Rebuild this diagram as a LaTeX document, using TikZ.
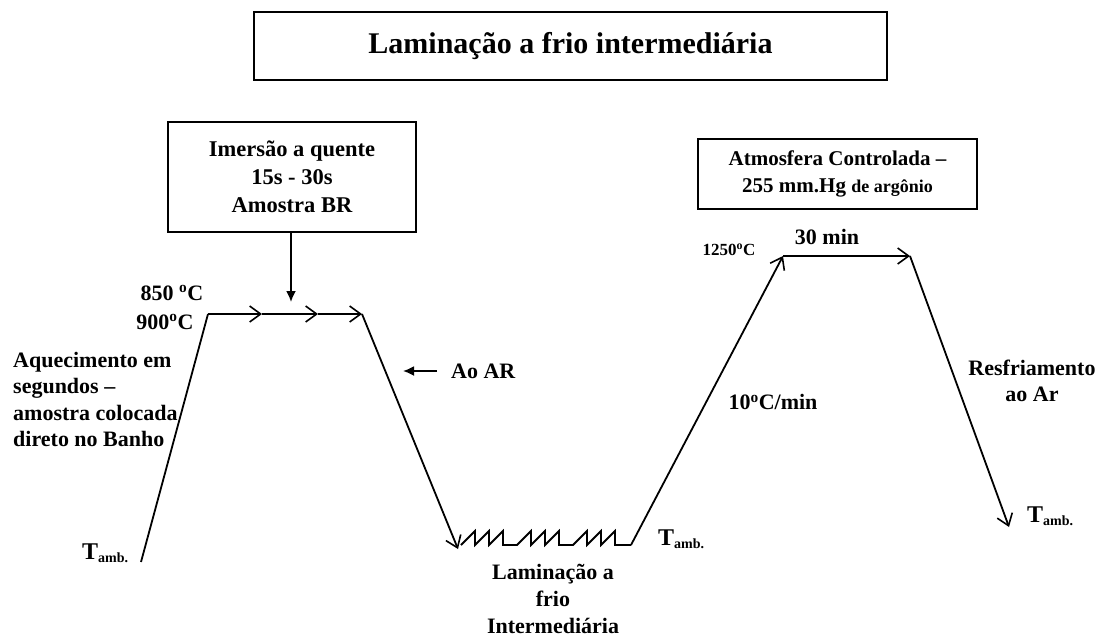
\documentclass[tikz,border=0pt]{standalone}
\usepackage{fontspec}
\setmainfont{Liberation Serif}
\usetikzlibrary{arrows.meta}
\newcommand{\dg}{\textsuperscript{o}}
\newcommand{\tamb}{T\raisebox{-0.3ex}{\fontsize{14}{14}\selectfont amb.}}
\begin{document}
\begin{tikzpicture}[x=1pt,y=-1pt,
  ln/.style={line width=1.8pt},
  barb/.style={ln,-{Straight Barb[length=11pt,width=16pt,line width=1.6pt]}},
  solid/.style={ln,-{Latex[length=11pt,width=10pt]}},
  txt/.style={font=\fontsize{22}{26.5}\selectfont\bfseries, inner sep=0pt},
  boxst/.style={draw, line width=1.6pt, inner sep=0pt, align=center}]
\useasboundingbox (0,0) rectangle (1097,638);

% boxes
\node[boxst, minimum width=633pt, minimum height=68pt,
  font=\fontsize{30}{34}\selectfont\bfseries] (title) at (570.5,46) {Laminação a frio intermediária};
\node[boxst, minimum width=248pt, minimum height=110pt,
  font=\fontsize{22.5}{28}\selectfont\bfseries] (imer) at (292,177) {Imersão a quente\\15s - 30s\\Amostra BR};
\node[boxst, minimum width=279pt, minimum height=70pt,
  font=\fontsize{21}{27}\selectfont\bfseries] (atmo) at (837.5,174) {Atmosfera Controlada –\\255 mm.Hg {\fontsize{18}{27}\selectfont de argônio}};

% curve points
\coordinate (A) at (141,562);
\coordinate (B) at (208,314);
\coordinate (P1) at (262,314);
\coordinate (P2) at (318,314);
\coordinate (C) at (362,314);
\coordinate (D) at (458,549);
\coordinate (Z0) at (461,545);
\coordinate (E) at (631,545);
\coordinate (F) at (783,256);
\coordinate (G) at (910,256);
\coordinate (H) at (1009,527);
\coordinate (V) at (291,302);
\coordinate (R1) at (437,371);
\coordinate (R2) at (403,371);

% profile
\draw[ln] (A) -- (B);
\draw[barb] (B) -- (P1);
\draw[barb] (P1) -- (P2);
\draw[barb] (P2) -- (C);
\draw[barb] (C) -- (D);
\draw[ln, line join=miter] (Z0) -- ++(14,-14) -- ++(0,14) -- ++(14,-14) -- ++(0,14) -- ++(14,-14) -- ++(0,14)
  -- ++(14,0)
  -- ++(14,-14) -- ++(0,14) -- ++(14,-14) -- ++(0,14) -- ++(14,-14) -- ++(0,14)
  -- ++(14,0)
  -- ++(14,-14) -- ++(0,14) -- ++(14,-14) -- ++(0,14) -- ++(14,-14) -- ++(0,14)
  -- (E);
\draw[barb] (E) -- (F);
\draw[barb] (F) -- (G);
\draw[barb] (G) -- (H);

\draw[solid] (imer.south -| V) -- (V);
\draw[solid] (R1) -- (R2);

% labels
\node[txt] (t850) at (172,293) {850 \dg C};
\node[txt] (t900) at (165,322) {900\dg C};
\node[txt, anchor=north west, align=left] (aq) at (13,352) {Aquecimento em\\segundos –\\amostra colocada\\direto no Banho};
\node[txt, anchor=west] (aoar) at (451,371) {Ao AR};
\node[txt] (rate) at (773,402) {10\dg C/min};
\node[txt, font=\fontsize{17}{20}\selectfont\bfseries] (t1250) at (729,250) {1250\dg C};
\node[txt] (t30) at (827,237) {30 min};
\node[txt, align=center] (resf) at (1032,381) {Resfriamento\\ao Ar};
\node[txt, align=center, anchor=north, font=\fontsize{22}{27}\selectfont\bfseries] (lam) at (553,564) {Laminação a\\frio\\Intermediária};
\node[txt, font=\fontsize{24}{24}\selectfont\bfseries, anchor=west] (ta1) at (82,553) {\tamb};
\node[txt, font=\fontsize{24}{24}\selectfont\bfseries, anchor=west] (ta2) at (658,539) {\tamb};
\node[txt, font=\fontsize{24}{24}\selectfont\bfseries, anchor=west] (ta3) at (1027,516) {\tamb};
\end{tikzpicture}
\end{document}
